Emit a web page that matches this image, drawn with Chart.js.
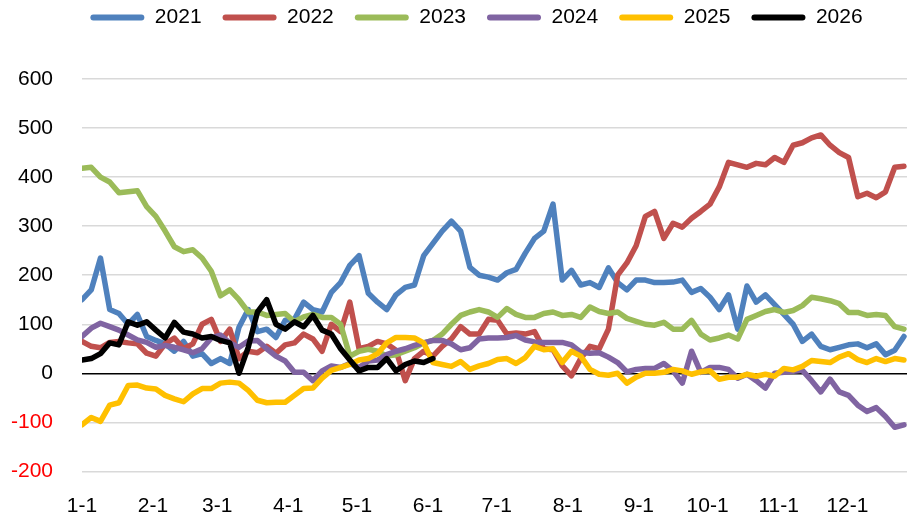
<!DOCTYPE html>
<html>
<head>
<meta charset="utf-8">
<script src="https://cdn.jsdelivr.net/npm/chart.js@4.4.1/dist/chart.umd.min.js"></script>
<style>
  html, body { margin: 0; padding: 0; background: #fff; }
  #wrap { width: 907px; height: 513px; }
</style>
</head>
<body>
<div id="wrap"><canvas id="seasonChart"></canvas></div>
<script>
// ===== DATA =====
const seriesNames = ["2021", "2022", "2023", "2024", "2025", "2026"];
const seriesColors = ["#4f81bd", "#c0504d", "#9bbb59", "#8064a2", "#ffc000", "#000000"];

const tickDays = [0, 31, 59, 90, 120, 151, 181, 212, 243, 273, 304, 334];
const tickLabels = ["1-1", "2-1", "3-1", "4-1", "5-1", "6-1", "7-1", "8-1", "9-1", "10-1", "11-1", "12-1"];

// sampling points, day of year (about every 4 days)
const days = Array.from({ length: 90 }, (_, i) => i * 4.03);

const v2021 = [150, 170, 235, 130, 122, 100, 120, 75, 67, 60,
  45, 65, 35, 40, 20, 30, 20, 94, 130, 85,
  90, 73, 108, 110, 145, 130, 125, 165, 185, 220,
  240, 163, 145, 130, 160, 175, 180, 240, 265, 290,
  310, 290, 216, 200, 196, 190, 205, 212, 245, 275,
  290, 345, 190, 210, 180, 185, 175, 215, 185, 170,
  190, 190, 185, 185, 186, 190, 165, 173, 155, 130,
  160, 90, 178, 145, 160, 140, 120, 100, 65, 80,
  55, 48, 53, 58, 60, 52, 60, 38, 47, 75];
const v2022 = [65, 55, 52, 63, 65, 62, 60, 41, 35, 60,
  72, 50, 60, 100, 110, 65, 90, 30, 45, 42,
  55, 41, 58, 62, 80, 70, 45, 100, 85, 145,
  50, 55, 65, 60, 47, -15, 30, 45, 35, 55,
  70, 95, 80, 80, 110, 108, 80, 82, 80, 85,
  50, 48, 15, -5, 30, 55, 50, 90, 200, 225,
  260, 320, 330, 275, 306, 298, 316, 330, 345, 380,
  430, 425, 420, 428, 425, 440, 430, 465, 470, 480,
  486, 465, 450, 440, 360, 367, 358, 370, 420, 422];
const v2023 = [418, 420, 400, 390, 368, 370, 372, 340, 320, 290,
  258, 248, 252, 235, 208, 158, 170, 150, 125, 125,
  118, 120, 122, 105, 115, 120, 114, 114, 100, 35,
  45, 49, 45, 35, 38, 45, 52, 62, 67, 80,
  100, 118, 125, 130, 125, 114, 132, 120, 114, 114,
  122, 125, 118, 120, 114, 135, 126, 122, 125, 112,
  106, 100, 98, 104, 90, 90, 108, 80, 68, 72,
  78, 70, 110, 118, 126, 130, 124, 128, 138, 155,
  152, 148, 142, 124, 124, 118, 120, 118, 95, 90];
const v2024 = [75, 92, 102, 95, 88, 78, 68, 63, 53, 57,
  53, 48, 42, 50, 72, 78, 62, 53, 66, 67,
  50, 35, 25, 2, 2, -15, 5, 15, 12, 20,
  12, 25, 27, 38, 45, 50, 57, 62, 67, 67,
  60, 48, 52, 70, 72, 72, 73, 77, 68, 64,
  63, 63, 63, 58, 43, 41, 42, 33, 22, 3,
  8, 10, 10, 20, 5, -20, 45, 2, 12, 12,
  8, -10, -2, -15, -30, 0, 2, 4, 6, -15,
  -38, -12, -38, -45, -65, -78, -70, -88, -110, -105];
const v2025 = [-105, -90, -98, -65, -60, -25, -24, -30, -32, -45,
  -52, -58, -42, -31, -31, -20, -18, -20, -35, -55,
  -60, -59, -59, -45, -31, -30, -10, 6, 12, 18,
  27, 30, 40, 62, 73, 73, 72, 62, 22, 18,
  14, 24, 8, 15, 20, 28, 30, 20, 32, 55,
  48, 50, 22, 45, 35, 8, -2, -4, 0, -20,
  -8, 0, 0, 2, 8, 5, -2, 3, 5, -12,
  -8, -8, -2, -6, -2, -6, 10, 7, 14, 26,
  24, 22, 33, 40, 28, 22, 30, 24, 30, 27];
const v2026 = [27, 30, 40, 62, 58, 105, 98, 105, 88, 72,
  104, 84, 80, 72, 75, 67, 62, 0, 53, 125,
  150, 100, 90, 105, 95, 118, 88, 80, 50, 27,
  5, 12, 12, 30, 5, 18, 25, 22, 30];

const seriesValues = [v2021, v2022, v2023, v2024, v2025, v2026];

// ===== HELPERS =====
const fontFamily = "'Liberation Sans', Arial, sans-serif";

// extra space below the legend
const legendMargin = {
  id: "legendMargin",
  beforeInit(chart) {
    const origFit = chart.legend.fit;
    chart.legend.fit = function fit() {
      origFit.bind(chart.legend)();
      this.height += 41;
    };
  },
};

function buildDatasets() {
  return seriesNames.map((name, k) => ({
    label: name,
    data: seriesValues[k].map((v, i) => ({ x: days[i], y: v })),
    borderColor: seriesColors[k],
    backgroundColor: seriesColors[k],
    borderWidth: 5.5,
    pointRadius: 0,
    tension: 0,
    borderJoinStyle: "round",
    borderCapStyle: "round",
    order: seriesNames.length - k, // later years on top
  }));
}

// ===== CHART =====
function initSeasonChart() {
  const ctx = document.getElementById("seasonChart").getContext("2d");
  new Chart(ctx, {
    type: "line",
    data: { datasets: buildDatasets() },
    plugins: [legendMargin],
    options: {
      responsive: true,
      maintainAspectRatio: false,
      animation: false,
      // negative right padding only nudges the legend to the right
      layout: { padding: { left: 0, right: -46, top: -14, bottom: 0 } },
      plugins: {
        tooltip: { enabled: false },
        legend: {
          position: "top",
          labels: {
            boxWidth: 54,
            boxHeight: 6,
            padding: 21,
            color: "#000",
            font: { family: fontFamily, size: 21 },
            useBorderRadius: true,
            borderRadius: 3,
            sort: (a, b) => a.datasetIndex - b.datasetIndex,
            generateLabels: (chart) =>
              Chart.defaults.plugins.legend.labels
                .generateLabels(chart)
                .map((l) => ({ ...l, lineWidth: 0 })),
          },
        },
      },
      scales: {
        x: {
          type: "linear",
          min: 0,
          max: 360,
          grid: { display: false, drawTicks: false },
          border: { display: false },
          afterBuildTicks: (axis) => {
            axis.ticks = tickDays.map((d) => ({ value: d }));
          },
          afterFit: (axis) => {
            axis.height = 41;
          },
          ticks: {
            autoSkip: false,
            maxRotation: 0,
            padding: 22,
            color: "#000",
            font: { family: fontFamily, size: 21 },
            callback: (value) => tickLabels[tickDays.indexOf(value)],
          },
        },
        y: {
          min: -200,
          max: 600,
          border: { display: false },
          grid: {
            drawTicks: false,
            lineWidth: 1.5,
            color: (c) => (c.tick && c.tick.value === 0 ? "#000000" : "#d9d9d9"),
          },
          afterFit: (axis) => {
            axis.width = 82;
          },
          ticks: {
            stepSize: 100,
            padding: 29,
            font: { family: fontFamily, size: 21 },
            color: (c) => (c.tick.value < 0 ? "#ff0000" : "#000000"),
          },
        },
      },
    },
  });
}

document.addEventListener("DOMContentLoaded", function () {
  if (typeof Chart !== "undefined") {
    initSeasonChart();
  }
});
</script>
</body>
</html>
